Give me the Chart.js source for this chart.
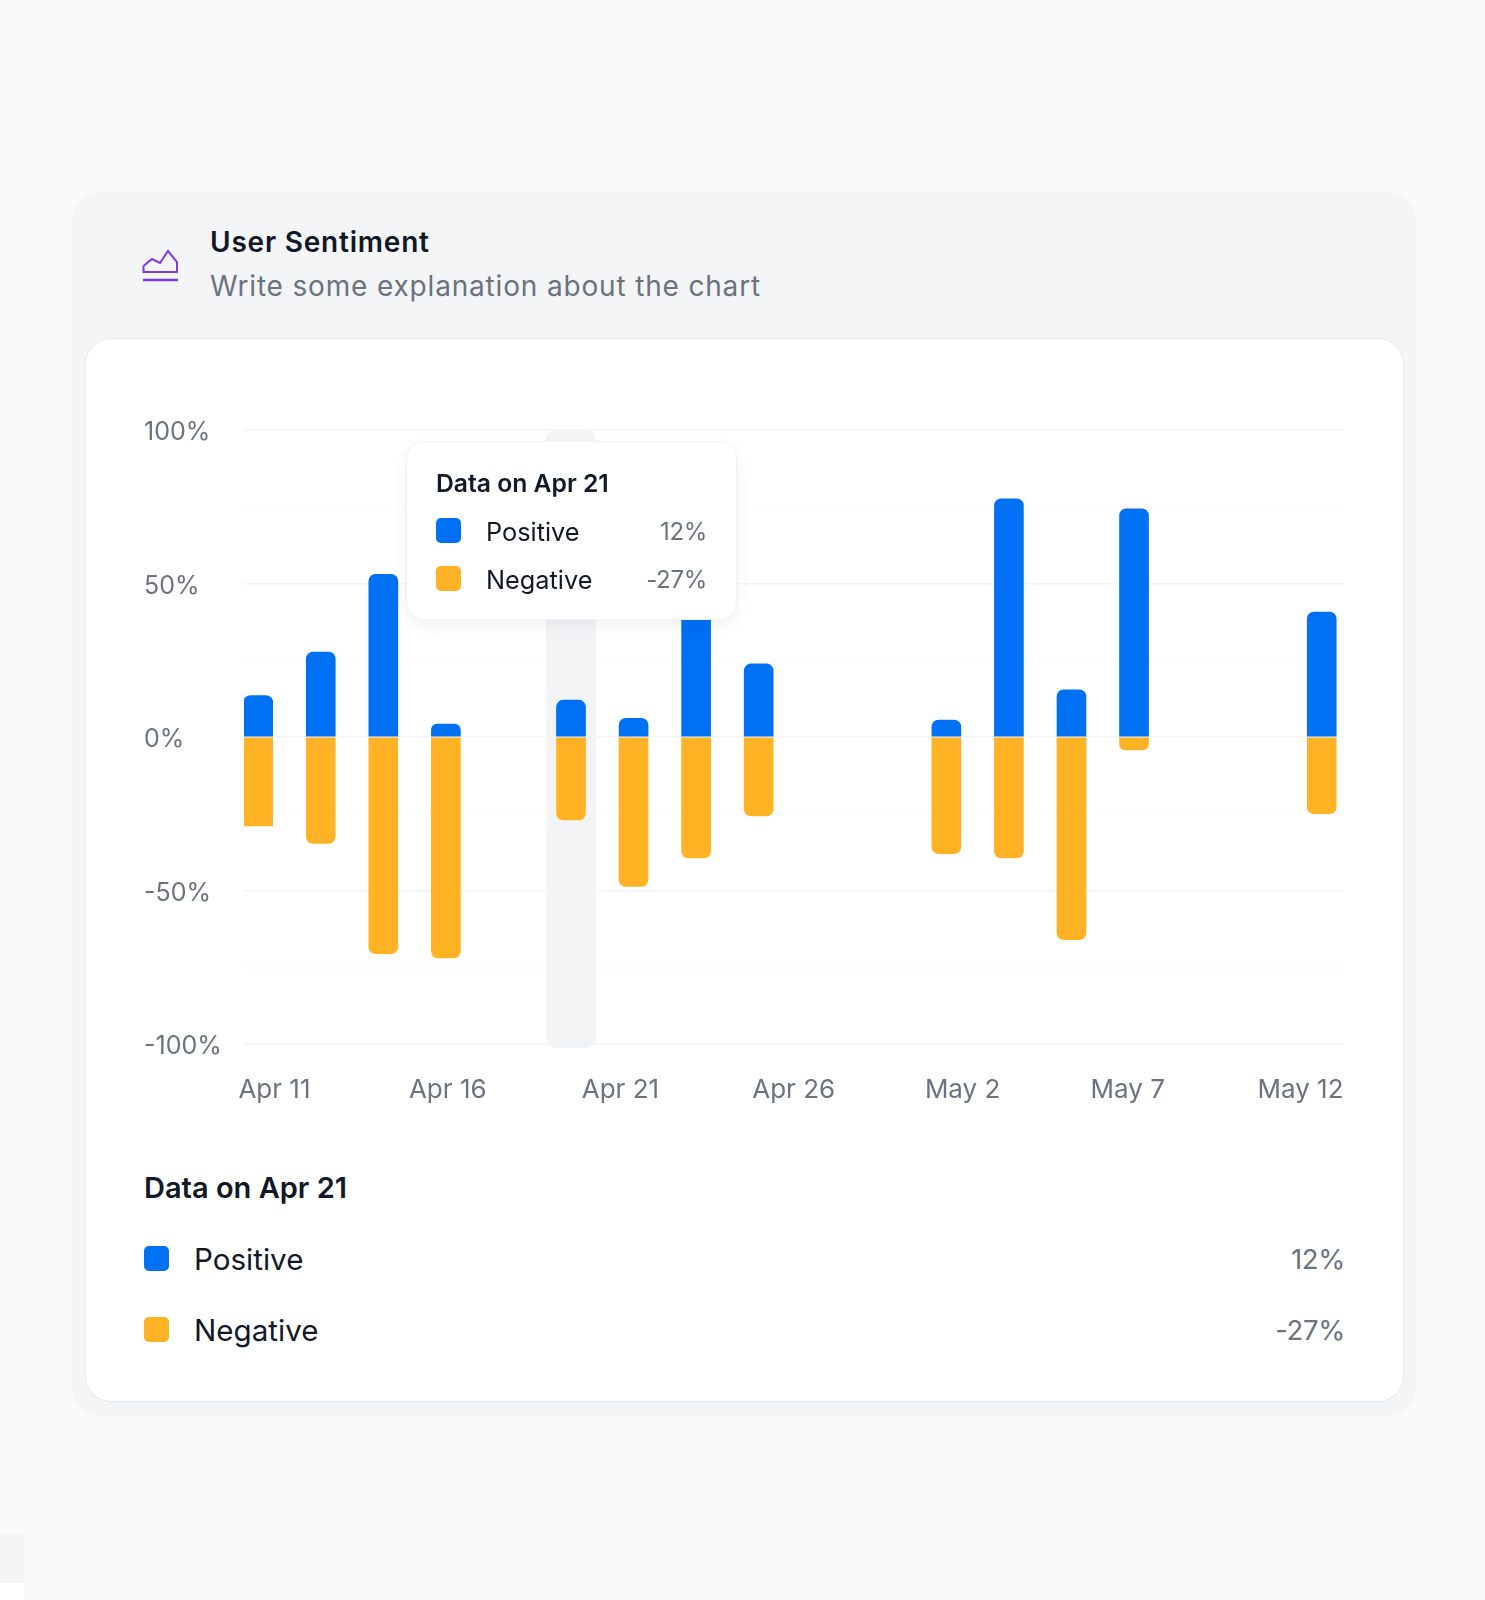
<!DOCTYPE html>
<html>
<head>
<meta charset="utf-8">
<title>User Sentiment</title>
<script src="https://cdn.jsdelivr.net/npm/chart.js@4"></script>
<style>
html,body{margin:0;padding:0;background:#f9fafc;}
body{position:relative;width:1485px;height:1600px;overflow:hidden;font-family:Inter,sans-serif;color:#111827;}
.abs{position:absolute;white-space:nowrap;}
#outer{left:72px;top:192px;width:1344px;height:1224px;background:#f4f5f7;border-radius:28px;}
#inner{left:85px;top:338px;width:1319px;height:1064px;background:#fff;border:1.5px solid #e9ebee;border-bottom-color:#e5e7eb;border-radius:26px;box-sizing:border-box;}
#corner{left:0;top:1535px;width:24px;height:48px;background:#f3f4f6;}
#corner2{left:0;top:1583px;width:24px;height:17px;background:#fff;}
#title{left:210px;top:224px;font-size:28px;line-height:36px;font-weight:600;letter-spacing:.8px;}
#sub{left:210px;top:268px;font-size:28px;line-height:36px;color:#6b7280;letter-spacing:.83px;}
#icon{left:142px;top:249px;}
#wrap{left:144px;top:415px;width:1200px;height:705px;}
#tip{left:406px;top:441px;width:331px;height:179px;background:#fff;border:1.5px solid #f0f1f3;border-radius:18px;box-sizing:border-box;box-shadow:0 6px 16px rgba(17,24,39,.06);}
.swatch{width:25px;height:25px;border-radius:5px;}
.t-head{font-size:24.7px;line-height:30px;font-weight:600;}
.t-name{font-size:25.3px;line-height:30px;}
.t-val{font-size:24px;line-height:30px;color:#6b7280;text-align:right;letter-spacing:-.3px;}
.l-head{font-size:29px;line-height:36px;font-weight:600;}
.l-name{font-size:29.6px;line-height:36px;}
.l-val{font-size:27.5px;line-height:36px;color:#6b7280;text-align:right;letter-spacing:-.3px;}
</style>
</head>
<body>
<div class="abs" id="outer"></div>
<div class="abs" id="inner"></div>
<div class="abs" id="corner"></div>
<div class="abs" id="corner2"></div>

<svg class="abs" id="icon" width="37" height="34" viewBox="0 0 37 34" fill="none" stroke="#7c3aed" stroke-width="2">
<path d="M1.5 23V17L10 10L18 14L26 2L35 13V23Z"/>
<path d="M1 31H36" stroke-width="2.4"/>
</svg>
<div class="abs" id="title">User Sentiment</div>
<div class="abs" id="sub">Write some explanation about the chart</div>

<div class="abs" id="wrap"><canvas id="sentimentChart"></canvas></div>
<div class="abs" id="tip"></div>

<script>
// one slot per bar, null where that slot has no data
const positive=[13.5,27.7,53,4.2,null,12,6.1,45,23.8,null,null,5.5,77.6,15.4,74.3,null,null,40.7];
const negative=[-29,-34.7,-70.6,-72,null,-27,-48.7,-39.4,-25.7,null,null,-38,-39.4,-66,-4.2,null,null,-25];
const tickLabels=['Apr 11','Apr 16','Apr 21','Apr 26','May 2','May 7','May 12'];
// where each date label falls along the bar slots
const tickSlots=[0.26,3.03,5.79,8.56,11.26,13.9,16.66];
const yTicks=[100,75,50,25,0,-25,-50,-75,-100];
const activeSlot=5;
const activeDate='Apr 21';

const BLUE='#0070f5',AMBER='#ffb224',GREY='#6b7280';

const toPoints=arr=>arr.map((y,x)=>({x,y}));

// grey hover band behind the selected slot
const bandPlugin={
id:'band',
beforeDatasetsDraw(chart){
const {ctx,chartArea,scales}=chart;
const cx=scales.x.getPixelForValue(activeSlot);
ctx.save();
ctx.fillStyle='#f3f4f6';
ctx.beginPath();
ctx.roundRect(cx-25,chartArea.top-1,50,chartArea.bottom-chartArea.top+5,10);
ctx.fill();
ctx.restore();
}
};

new Chart(document.getElementById('sentimentChart'),{
type:'bar',
data:{datasets:[
{label:'Positive',data:toPoints(positive),backgroundColor:BLUE,grouped:false,barThickness:29,borderSkipped:false,borderRadius:{topLeft:7,topRight:7,bottomLeft:0,bottomRight:0}},
// first bar has a square foot
{label:'Negative',data:toPoints(negative),backgroundColor:AMBER,grouped:false,barThickness:29,borderSkipped:false,
borderRadius:c=>{const r=c.dataIndex===0?0:7;return {topLeft:0,topRight:0,bottomLeft:r,bottomRight:r};}}
]},
plugins:[bandPlugin],
options:{
responsive:true,maintainAspectRatio:false,animation:false,
plugins:{legend:{display:false},tooltip:{enabled:false}},
scales:{
x:{
type:'linear',offset:false,min:-0.227,max:17.356,
grid:{display:false},border:{display:false},
afterBuildTicks:s=>{s.ticks=tickSlots.map(value=>({value}));},
// plot runs the full canvas width, labels stay inside on their own
afterFit:s=>{s.height=76;s.paddingLeft=0;s.paddingRight=0;},
ticks:{autoSkip:false,maxRotation:0,padding:23,color:GREY,font:{family:'Inter',size:26},callback:(v,i)=>tickLabels[i]}
},
y:{
min:-100,max:100,
grid:{drawTicks:false,lineWidth:1.5,color:c=>c.tick.value%50===0?'#f3f4f6':'#fbfbfb'},
border:{display:false},
afterBuildTicks:s=>{s.ticks=yTicks.map(value=>({value}));},
afterFit:s=>{s.width=100;s.paddingTop=15;},
// empty first line nudges the text a little below its grid line
ticks:{crossAlign:'far',padding:0,color:GREY,font:{family:'Inter',size:25,lineHeight:'5px'},callback:v=>v%50===0?['',v+'%']:''}
}
}
}
});

// tooltip card and the readout under the chart, both from the selected slot
function put(cls,text,left,top,right){
const d=document.createElement('div');
d.className='abs '+cls;
d.textContent=text;
d.style.top=top+'px';
if(right!==undefined)d.style.right=(1485-right)+'px';else d.style.left=left+'px';
document.body.appendChild(d);
}
function swatch(color,left,top){
const d=document.createElement('div');
d.className='abs swatch';
d.style.background=color;d.style.left=left+'px';d.style.top=top+'px';
document.body.appendChild(d);
}
const pos=positive[activeSlot]+'%',neg=negative[activeSlot]+'%';

put('t-head','Data on '+activeDate,436,468);
swatch(BLUE,436,518);
put('t-name','Positive',486,517);
put('t-val',pos,0,517,707);
swatch(AMBER,436,566);
put('t-name','Negative',486,565);
put('t-val',neg,0,565,707);

put('l-head','Data on '+activeDate,144,1170);
swatch(BLUE,144,1246);
put('l-name','Positive',194,1241);
put('l-val',pos,0,1241,1345);
swatch(AMBER,144,1317);
put('l-name','Negative',194,1312);
put('l-val',neg,0,1312,1345);
</script>
</body>
</html>
